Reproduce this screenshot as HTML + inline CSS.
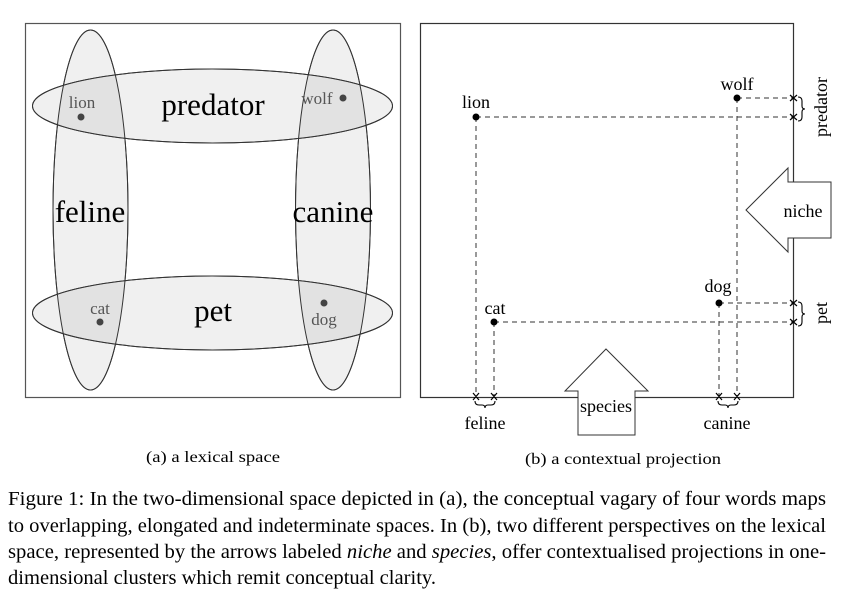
<!DOCTYPE html>
<html><head><style>body{margin:0;background:#fff}svg{display:block}</style></head><body>
<svg width="847" height="595" viewBox="0 0 847 595" xmlns="http://www.w3.org/2000/svg" font-family="Liberation Serif, serif">
<rect x="25.5" y="23.5" width="375" height="374" fill="#fff" stroke="#555" stroke-width="1.2"/>
<defs>
<clipPath id="cf"><ellipse cx="90.5" cy="210" rx="37.5" ry="180"/></clipPath>
<clipPath id="cc"><ellipse cx="333" cy="210" rx="37.5" ry="180"/></clipPath>
</defs>
<g fill="#f0f0f0" stroke="#333" stroke-width="1">
<ellipse cx="90.5" cy="210" rx="37.5" ry="180"/>
<ellipse cx="333" cy="210" rx="37.5" ry="180"/>
<ellipse cx="212.5" cy="106" rx="180" ry="37"/>
<ellipse cx="212.5" cy="313" rx="180" ry="37"/>
</g>
<g fill="#e2e2e2" stroke="none">
<ellipse cx="212.5" cy="106" rx="179.5" ry="36.5" clip-path="url(#cf)"/>
<ellipse cx="212.5" cy="313" rx="179.5" ry="36.5" clip-path="url(#cf)"/>
<ellipse cx="212.5" cy="106" rx="179.5" ry="36.5" clip-path="url(#cc)"/>
<ellipse cx="212.5" cy="313" rx="179.5" ry="36.5" clip-path="url(#cc)"/>
</g>
<g fill="none" stroke="#333" stroke-width="1">
<ellipse cx="90.5" cy="210" rx="37.5" ry="180"/>
<ellipse cx="333" cy="210" rx="37.5" ry="180"/>
<ellipse cx="212.5" cy="106" rx="180" ry="37"/>
<ellipse cx="212.5" cy="313" rx="180" ry="37"/>
</g>
<g font-size="31" fill="#000" text-anchor="middle">
<text x="213" y="115">predator</text>
<text x="213" y="321">pet</text>
<text x="90" y="222">feline</text>
<text x="333" y="222">canine</text>
</g>
<g font-size="17" fill="#555" text-anchor="middle">
<text x="82" y="108">lion</text>
<text x="317" y="104">wolf</text>
<text x="100" y="314">cat</text>
<text x="324" y="325">dog</text>
</g>
<g fill="#444"><circle cx="81" cy="117" r="3.5"/><circle cx="343" cy="98" r="3.5"/><circle cx="100" cy="322" r="3.5"/><circle cx="324" cy="303" r="3.5"/></g>

<rect x="420.5" y="23.5" width="373" height="374" fill="none" stroke="#333" stroke-width="1.2"/>
<g stroke="#333" stroke-width="1" stroke-dasharray="5,4" fill="none">
<path d="M476 117H793M476 117V397"/>
<path d="M737 98H793M737 98V397"/>
<path d="M719 303H793M719 303V397"/>
<path d="M494 322H793M494 322V397"/>
</g>
<g fill="#000"><circle cx="476" cy="117" r="3.5"/><circle cx="737" cy="98" r="3.5"/><circle cx="719" cy="303" r="3.5"/><circle cx="494" cy="322" r="3.5"/></g>
<g stroke="#000" stroke-width="1.2">
<path d="M790 95l7 6M797 95l-7 6M790 114l7 6M797 114l-7 6M790 300l7 6M797 300l-7 6M790 319l7 6M797 319l-7 6"/>
<path d="M473 393l6 7M479 393l-6 7M491 393l6 7M497 393l-6 7M716 393l6 7M722 393l-6 7M734 393l6 7M740 393l-6 7"/>
</g>
<g fill="none" stroke="#000" stroke-width="1.1">
<path d="M798 97q4 0 4 4v5q0 3 3 3q-3 0-3 3v5q0 4-4 4"/>
<path d="M798 302q4 0 4 4v5q0 3 3 3q-3 0-3 3v5q0 4-4 4"/>
<path d="M475 401q0 4 4 4h3q3 0 3 3q0-3 3-3h3q4 0 4-4"/>
<path d="M718 401q0 4 4 4h3q3 0 3 3q0-3 3-3h3q4 0 4-4"/>
</g>
<polygon points="746,210 788,168 788,182 831,182 831,238 788,238 788,252" fill="#fff" stroke="#333" stroke-width="1"/>
<polygon points="606,349 648,391 635,391 635,435 578,435 578,391 565,391" fill="#fff" stroke="#333" stroke-width="1"/>
<g font-size="18" fill="#000" text-anchor="middle">
<text x="476" y="108">lion</text>
<text x="737" y="90">wolf</text>
<text x="718" y="292">dog</text>
<text x="495" y="314">cat</text>
<text x="803" y="217">niche</text>
<text x="606" y="412">species</text>
<text x="485" y="429">feline</text>
<text x="727" y="429">canine</text>
<text transform="translate(827,107) rotate(-90)">predator</text>
<text transform="translate(827,313) rotate(-90)">pet</text>
</g>
<g font-size="16" fill="#000">
<text x="146" y="462" textLength="134" lengthAdjust="spacingAndGlyphs">(a) a lexical space</text>
<text x="525" y="464" textLength="196" lengthAdjust="spacingAndGlyphs">(b) a contextual projection</text>
</g>
<g font-size="20" fill="#000">
<text x="8" y="505" textLength="818" lengthAdjust="spacingAndGlyphs">Figure 1: In the two-dimensional space depicted in (a), the conceptual vagary of four words maps</text>
<text x="8" y="532" textLength="818" lengthAdjust="spacingAndGlyphs">to overlapping, elongated and indeterminate spaces. In (b), two different perspectives on the lexical</text>
<text x="8" y="558" textLength="818" lengthAdjust="spacingAndGlyphs">space, represented by the arrows labeled <tspan font-style="italic">niche</tspan> and <tspan font-style="italic">species</tspan>, offer contextualised projections in one-</text>
<text x="8" y="584" textLength="428" lengthAdjust="spacingAndGlyphs">dimensional clusters which remit conceptual clarity.</text>
</g>
</svg>
</body></html>
